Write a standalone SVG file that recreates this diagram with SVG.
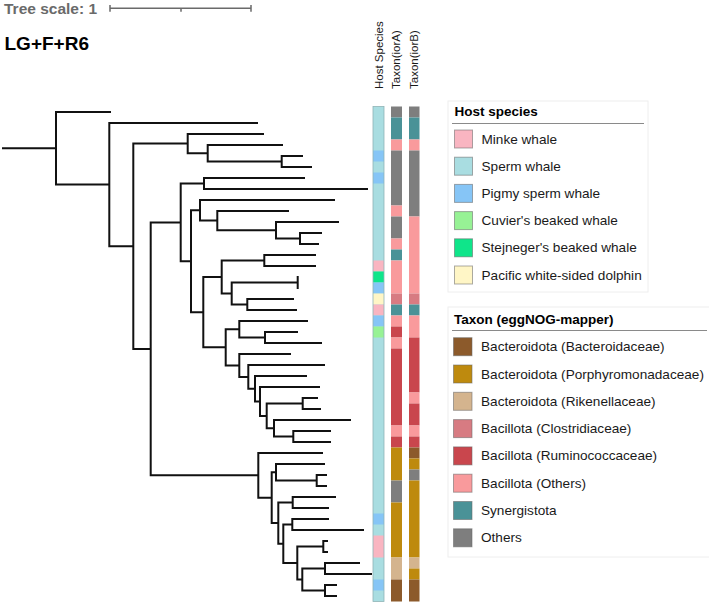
<svg xmlns="http://www.w3.org/2000/svg" width="709" height="603" viewBox="0 0 709 603">
<style>
.t{font-family:"Liberation Sans",Arial,sans-serif;fill:#1a1a1a}
.lg{font-size:13.6px}
.ttl{font-size:13.5px;font-weight:bold}
.hd{font-size:11.5px}
.br{fill:none;stroke:#111;stroke-width:2;stroke-linecap:square}
.sw{stroke:#666;stroke-opacity:0.55;stroke-width:1}
.sp{fill:#A9DDE1}.mk{fill:#F9B5C1}.pg{fill:#86C5F6}.cv{fill:#97F295}.sj{fill:#0FE58A}.pc{fill:#FFF6C6}
.bb{fill:#8C5A2B}.go{fill:#BE8A0E}.tn{fill:#D4B48E}.cl{fill:#D77B82}.ru{fill:#C9464D}.bo{fill:#F99A9C}.sy{fill:#4A9297}.ot{fill:#7E7E7E}
</style>
<rect width="709" height="603" fill="#fff"/>

<g id="scale">
<text class="t" x="4" y="14" style="font-size:15.5px;font-weight:bold;fill:#6a6a6a">Tree scale: 1</text>
<path d="M110 8.3H251M110 5V11.7M251 5V11.7M181 8.3V11.7" fill="none" stroke="#6a6a6a" stroke-width="1.5"/>
</g>
<g id="title"><text class="t" x="4.5" y="49.5" style="font-size:19px;font-weight:bold;fill:#000">LG+F+R6</text></g>

<g id="connectors">
<path class="br" d="M3 148.3H56M56 112V184.6M56 112H110
M56 184.6H109.3M109.3 123V246.2M109.3 123H257
M109.3 246.2H133.3M133.3 143.6V348.9
M133.3 143.6H187.7M187.7 134V153.25M187.7 134H263
M187.7 153.25H207.7M207.7 145V161.5M207.7 145H282
M207.7 161.5H281.7M281.7 156V167M281.7 156H302M281.7 167H311
M133.3 348.9H150.7M150.7 222.4V475.3
M150.7 222.4H180.7M180.7 183.5V261.2
M180.7 183.5H204M204 178V189M204 178H304M204 189H367
M180.7 261.2H191M191 210.3V312.2
M191 210.3H200M200 200V220.6M200 200H334
M200 220.6H217.3M217.3 211V230.25M217.3 211H288
M217.3 230.25H276M276 222V238.5M276 222H338
M276 238.5H300M300 233V244M300 233H321M300 244H318
M191 312.2H203.3M203.3 277V347.3
M203.3 277H221.7M221.7 260.5V293.5
M221.7 260.5H264.3M264.3 255V266M264.3 255H315M264.3 266H315
M221.7 293.5H231.7M231.7 282.5V304.5
M231.7 282.5H297.7M297.7 277V288
M231.7 304.5H247.3M247.3 299V310M247.3 299H293M247.3 310H296
M203.3 347.3H225.7M225.7 329.25V365.4
M225.7 329.25H239.3M239.3 321V337.5M239.3 321H307
M239.3 337.5H265M265 332V343M265 332H297M265 343H321
M225.7 365.4H239.3M239.3 354V376.9M239.3 354H290
M239.3 376.9H248.3M248.3 365V388.7M248.3 365H324
M248.3 388.7H255M255 376V401.4M255 376H306
M255 401.4H260M260 387V415.9M260 387H319
M260 415.9H266.7M266.7 403.5V428.25
M266.7 403.5H302.7M302.7 398V409M302.7 398H317M302.7 409H320
M266.7 428.25H274M274 420V436.5M274 420H350
M274 436.5H293.3M293.3 431V442M293.3 431H330M293.3 442H330
M150.7 475.3H258.3M258.3 453V497.7M258.3 453H322
M258.3 497.7H271.7M271.7 472.25V523.1
M271.7 472.25H276M276 464V480.5M276 464H324
M276 480.5H316.7M316.7 475V486M316.7 475H326M316.7 486H326
M271.7 523.1H278.3M278.3 502.5V543.75
M278.3 502.5H292.7M292.7 497V508M292.7 497H335M292.7 508H328
M278.3 543.75H283.3M283.3 524.5V563
M283.3 524.5H292.3M292.3 519V530M292.3 519H328M292.3 530H363
M283.3 563H297.3M297.3 546.5V579.5
M297.3 546.5H323.3M323.3 541V552M323.3 541H327M323.3 552H327
M297.3 579.5H302.3M302.3 568.5V590.5
M302.3 568.5H325M325 563V574M325 563H359M325 574H371
M302.3 590.5H325M325 585V596M325 585H336M325 596H336"/>
</g>

<g id="headers">
<text class="t hd" transform="translate(382.5,89) rotate(-90)">Host Species</text>
<text class="t hd" transform="translate(400,89) rotate(-90)">Taxon(iorA)</text>
<text class="t hd" transform="translate(417.5,89) rotate(-90)">Taxon(iorB)</text>
</g>

<g id="strip-host">
<rect class="sp" x="373" y="106.5" width="11" height="495"/>
<rect class="pg" x="373" y="150.5" width="11" height="11"/>
<rect class="pg" x="373" y="172.5" width="11" height="11"/>
<rect class="mk" x="373" y="260.5" width="11" height="11"/>
<rect class="sj" x="373" y="271.5" width="11" height="11"/>
<rect class="pg" x="373" y="282.5" width="11" height="11"/>
<rect class="pc" x="373" y="293.5" width="11" height="11"/>
<rect class="mk" x="373" y="304.5" width="11" height="11"/>
<rect class="pg" x="373" y="315.5" width="11" height="11"/>
<rect class="cv" x="373" y="326.5" width="11" height="11"/>
<rect class="pg" x="373" y="513.5" width="11" height="11"/>
<rect class="mk" x="373" y="535.5" width="11" height="22"/>
<rect class="pg" x="373" y="579.5" width="11" height="11"/>
<rect x="373" y="106.5" width="11" height="495" fill="none" stroke="#8fb3b6" stroke-width="0.8"/>
</g>

<g id="strip-iorA">
<rect class="ot" x="391" y="106.5" width="11" height="11"/>
<rect class="sy" x="391" y="117.5" width="11" height="22"/>
<rect class="bo" x="391" y="139.5" width="11" height="11"/>
<rect class="ot" x="391" y="150.5" width="11" height="55"/>
<rect class="bo" x="391" y="205.5" width="11" height="11"/>
<rect class="ot" x="391" y="216.5" width="11" height="22"/>
<rect class="bo" x="391" y="238.5" width="11" height="11"/>
<rect class="sy" x="391" y="249.5" width="11" height="11"/>
<rect class="bo" x="391" y="260.5" width="11" height="33"/>
<rect class="cl" x="391" y="293.5" width="11" height="11"/>
<rect class="sy" x="391" y="304.5" width="11" height="11"/>
<rect class="bo" x="391" y="315.5" width="11" height="11"/>
<rect class="ru" x="391" y="326.5" width="11" height="11"/>
<rect class="bo" x="391" y="337.5" width="11" height="11"/>
<rect class="ru" x="391" y="348.5" width="11" height="77"/>
<rect class="bo" x="391" y="425.5" width="11" height="11"/>
<rect class="ru" x="391" y="436.5" width="11" height="11"/>
<rect class="go" x="391" y="447.5" width="11" height="33"/>
<rect class="ot" x="391" y="480.5" width="11" height="22"/>
<rect class="go" x="391" y="502.5" width="11" height="55"/>
<rect class="tn" x="391" y="557.5" width="11" height="22"/>
<rect class="bb" x="391" y="579.5" width="11" height="22"/>
</g>

<g id="strip-iorB">
<rect class="ot" x="409" y="106.5" width="10.5" height="11"/>
<rect class="sy" x="409" y="117.5" width="10.5" height="22"/>
<rect class="bo" x="409" y="139.5" width="10.5" height="11"/>
<rect class="ot" x="409" y="150.5" width="10.5" height="66"/>
<rect class="bo" x="409" y="216.5" width="10.5" height="77"/>
<rect class="cl" x="409" y="293.5" width="10.5" height="11"/>
<rect class="sy" x="409" y="304.5" width="10.5" height="11"/>
<rect class="bo" x="409" y="315.5" width="10.5" height="22"/>
<rect class="ru" x="409" y="337.5" width="10.5" height="55"/>
<rect class="bo" x="409" y="392.5" width="10.5" height="11"/>
<rect class="ru" x="409" y="403.5" width="10.5" height="22"/>
<rect class="bo" x="409" y="425.5" width="10.5" height="11"/>
<rect class="ru" x="409" y="436.5" width="10.5" height="11"/>
<rect class="bb" x="409" y="447.5" width="10.5" height="11"/>
<rect class="go" x="409" y="458.5" width="10.5" height="11"/>
<rect class="ot" x="409" y="469.5" width="10.5" height="11"/>
<rect class="go" x="409" y="480.5" width="10.5" height="77"/>
<rect class="tn" x="409" y="557.5" width="10.5" height="11"/>
<rect class="go" x="409" y="568.5" width="10.5" height="11"/>
<rect class="bb" x="409" y="579.5" width="10.5" height="22"/>
</g>

<g id="legend-host">
<rect x="448" y="101" width="200" height="191" fill="#fff" stroke="#eeeeee" stroke-width="1"/>
<text class="t ttl" x="454.5" y="116" style="fill:#000">Host species</text>
<line x1="452" y1="123.5" x2="644" y2="123.5" stroke="#8a8a8a" stroke-width="1"/>
<rect class="mk sw" x="454.5" y="130" width="18" height="18"/>
<text class="t lg" x="481.5" y="143.5">Minke whale</text>
<rect class="sp sw" x="454.5" y="157.2" width="18" height="18"/>
<text class="t lg" x="481.5" y="170.7">Sperm whale</text>
<rect class="pg sw" x="454.5" y="184.4" width="18" height="18"/>
<text class="t lg" x="481.5" y="197.9">Pigmy sperm whale</text>
<rect class="cv sw" x="454.5" y="211.6" width="18" height="18"/>
<text class="t lg" x="481.5" y="225.1">Cuvier's beaked whale</text>
<rect class="sj sw" x="454.5" y="238.8" width="18" height="18"/>
<text class="t lg" x="481.5" y="252.3">Stejneger's beaked whale</text>
<rect class="pc sw" x="454.5" y="266" width="18" height="18"/>
<text class="t lg" x="481.5" y="279.5">Pacific white-sided dolphin</text>
</g>

<g id="legend-taxon">
<rect x="448" y="307" width="262" height="250" fill="#fff" stroke="#eeeeee" stroke-width="1"/>
<text class="t ttl" x="454" y="323.5" style="fill:#000">Taxon (eggNOG-mapper)</text>
<line x1="452" y1="330.5" x2="707" y2="330.5" stroke="#8a8a8a" stroke-width="1"/>
<rect class="bb sw" x="453.5" y="337.7" width="18.5" height="18"/>
<text class="t lg" x="481" y="351.2">Bacteroidota (Bacteroidaceae)</text>
<rect class="go sw" x="453.5" y="365" width="18.5" height="18"/>
<text class="t lg" x="481" y="378.5">Bacteroidota (Porphyromonadaceae)</text>
<rect class="tn sw" x="453.5" y="392.3" width="18.5" height="18"/>
<text class="t lg" x="481" y="405.8">Bacteroidota (Rikenellaceae)</text>
<rect class="cl sw" x="453.5" y="419.6" width="18.5" height="18"/>
<text class="t lg" x="481" y="433.1">Bacillota (Clostridiaceae)</text>
<rect class="ru sw" x="453.5" y="446.9" width="18.5" height="18"/>
<text class="t lg" x="481" y="460.4">Bacillota (Ruminococcaceae)</text>
<rect class="bo sw" x="453.5" y="474.2" width="18.5" height="18"/>
<text class="t lg" x="481" y="487.7">Bacillota (Others)</text>
<rect class="sy sw" x="453.5" y="501.5" width="18.5" height="18"/>
<text class="t lg" x="481" y="515">Synergistota</text>
<rect class="ot sw" x="453.5" y="528.8" width="18.5" height="18"/>
<text class="t lg" x="481" y="542.3">Others</text>
</g>
</svg>
